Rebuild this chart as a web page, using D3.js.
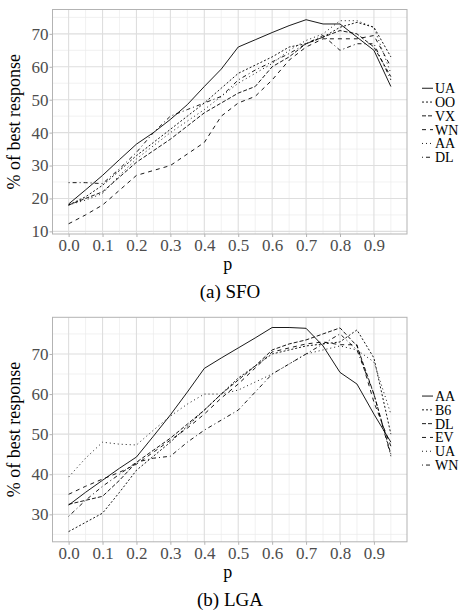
<!DOCTYPE html>
<html>
<head>
<meta charset="utf-8">
<script src="https://cdn.jsdelivr.net/npm/d3@7"></script>
<style>
  body { margin: 0; background: #fff; }
</style>
</head>
<body>
<div id="chart"></div>
<script>
// p values shared by every series
const pValues = [0, 0.05, 0.1, 0.15, 0.2, 0.25, 0.3, 0.35, 0.4, 0.45, 0.5, 0.55, 0.6, 0.65, 0.7, 0.75, 0.8, 0.85, 0.9, 0.95]
const xTicks = [0, 0.1, 0.2, 0.3, 0.4, 0.5, 0.6, 0.7, 0.8, 0.9]

// (a) SFO
const sfoNames = ['UA', 'OO', 'VX', 'WN', 'AA', 'DL']
const sfoUA = [18.3, 22.6, 27.0, 31.8, 36.5, 40.0, 44.0, 48.5, 54.0, 59.3, 66.0, 68.2, 70.4, 72.5, 74.3, 73.0, 73.0, 69.0, 65.0, 54.0]
const sfoOO = [18.0, 20.5, 24.0, 28.5, 33.0, 37.0, 41.0, 45.0, 49.0, 53.5, 58.0, 60.5, 63.0, 66.0, 67.0, 69.0, 72.0, 73.5, 72.0, 63.0]
const sfoVX = [18.0, 20.0, 22.0, 26.5, 31.0, 34.5, 38.0, 42.0, 46.0, 49.0, 52.0, 54.0, 60.0, 63.0, 67.0, 69.0, 71.0, 70.0, 66.0, 57.0]
const sfoWN = [12.3, 15.0, 18.0, 22.5, 27.0, 28.5, 30.0, 33.5, 37.0, 45.0, 49.0, 51.0, 56.0, 62.0, 66.0, 68.5, 68.5, 68.5, 69.5, 60.0]
const sfoAA = [18.0, 19.5, 21.5, 27.0, 32.0, 36.0, 40.0, 43.5, 47.0, 51.0, 55.0, 58.0, 61.0, 65.0, 68.0, 70.0, 74.0, 74.0, 72.0, 58.0]
const sfoDL = [24.8, 24.8, 24.5, 29.0, 34.0, 40.0, 45.0, 47.0, 49.0, 51.0, 56.0, 59.0, 61.5, 64.0, 67.0, 69.5, 65.0, 67.0, 67.0, 56.0]
const sfoYTicks = [10, 20, 30, 40, 50, 60, 70]

// (b) LGA
const lgaNames = ['AA', 'B6', 'DL', 'EV', 'UA', 'WN']
const lgaAA = [32.3, 35.5, 38.5, 41.5, 44.3, 49.5, 54.8, 60.5, 66.4, 69.0, 71.5, 74.0, 76.6, 76.6, 76.4, 72.0, 65.4, 62.5, 55.0, 48.0]
const lgaB6 = [25.7, 28.0, 30.3, 35.5, 41.0, 44.5, 48.0, 52.0, 56.0, 60.0, 64.0, 67.0, 70.0, 71.0, 72.0, 72.5, 73.0, 76.0, 69.0, 50.0]
const lgaDL = [32.5, 33.5, 34.5, 38.5, 43.0, 46.0, 49.0, 52.5, 56.0, 60.0, 63.5, 67.0, 71.0, 72.5, 73.5, 75.0, 76.5, 72.0, 60.0, 45.0]
const lgaEV = [35.0, 37.0, 38.8, 40.5, 42.5, 45.5, 48.5, 51.5, 55.0, 59.0, 62.5, 66.5, 70.5, 71.5, 72.5, 73.0, 72.3, 72.3, 58.0, 47.0]
const lgaUA = [39.3, 44.0, 48.0, 47.5, 47.3, 51.0, 54.5, 57.5, 60.0, 60.0, 61.0, 63.0, 65.0, 67.5, 70.0, 71.0, 72.0, 71.0, 68.0, 55.0]
const lgaWN = [29.5, 33.5, 37.0, 40.0, 43.0, 44.0, 44.5, 48.0, 51.0, 53.5, 56.0, 60.5, 65.0, 67.5, 70.0, 72.5, 75.0, 71.0, 60.0, 44.5]
const lgaYTicks = [30, 40, 50, 60, 70]

// ggplot default linetypes: solid, 22, 42, 44, 13, 1343
const dashes = ['none', '2,2', '4,2', '4,4', '1,3', '1,3,4,3']
const serif = '"Liberation Serif", "Times New Roman", serif'

const W = 463, H = 616
const svg = d3.select('#chart').append('svg')
  .attr('width', W)
  .attr('height', H)
  .style('font-family', serif)

function expand(ext) {
  let d = (ext[1] - ext[0]) * 0.05
  return [ext[0] - d, ext[1] + d]
}

function panel(top, names, series, yTicks, caption) {
  let left = 52.5, right = 407, height = 224.5
  let g = svg.append('g').attr('transform', `translate(0,${top})`)

  let x = d3.scaleLinear()
    .domain(expand(d3.extent(pValues)))
    .range([left, right])
  let y = d3.scaleLinear()
    .domain(expand(d3.extent(series.flat())))
    .range([height, 0])

  // minor grid halfway between majors
  let step = yTicks[1] - yTicks[0]
  let yMinor = d3.range(yTicks[0] - step / 2, y.domain()[1], step).filter(v => v > y.domain()[0])
  let xMinor = d3.range(0.05, 1.0, 0.1).filter(v => v < x.domain()[1])

  let grid = g.append('g')
  grid.selectAll('.ymin').data(yMinor).enter().append('line')
    .attr('x1', left).attr('x2', right)
    .attr('y1', d => y(d)).attr('y2', d => y(d))
    .style('stroke', '#ebebeb').style('stroke-width', 0.7)
  grid.selectAll('.xmin').data(xMinor).enter().append('line')
    .attr('y1', 0).attr('y2', height)
    .attr('x1', d => x(d)).attr('x2', d => x(d))
    .style('stroke', '#ebebeb').style('stroke-width', 0.7)
  grid.selectAll('.ymaj').data(yTicks).enter().append('line')
    .attr('x1', left).attr('x2', right)
    .attr('y1', d => y(d)).attr('y2', d => y(d))
    .style('stroke', '#dedede').style('stroke-width', 1.1)
  grid.selectAll('.xmaj').data(xTicks).enter().append('line')
    .attr('y1', 0).attr('y2', height)
    .attr('x1', d => x(d)).attr('x2', d => x(d))
    .style('stroke', '#dedede').style('stroke-width', 1.1)

  let line = d3.line()
    .x((d, i) => x(pValues[i]))
    .y(d => y(d))

  g.selectAll('.series').data(series).enter().append('path')
    .attr('d', d => line(d))
    .style('fill', 'none')
    .style('stroke', '#000')
    .style('stroke-width', 0.9)
    .style('stroke-dasharray', (d, i) => dashes[i])

  g.append('rect')
    .attr('x', left).attr('y', 0)
    .attr('width', right - left).attr('height', height)
    .style('fill', 'none').style('stroke', '#b3b3b3').style('stroke-width', 1)

  let xAxis = g.append('g')
    .attr('transform', `translate(0,${height})`)
    .call(d3.axisBottom(x).tickValues(xTicks).tickFormat(d3.format('.1f')).tickSize(3).tickPadding(2))
  let yAxis = g.append('g')
    .attr('transform', `translate(${left},0)`)
    .call(d3.axisLeft(y).tickValues(yTicks).tickSize(3).tickPadding(1))
  for (let a of [xAxis, yAxis]) {
    a.attr('font-family', null).attr('font-size', null)
    a.style('font-size', '17px')
    a.select('.domain').remove()
    a.selectAll('.tick line').style('stroke', '#b3b3b3')
    a.selectAll('.tick text').attr('fill', '#4d4d4d')
  }

  g.append('text')
    .attr('x', (left + right) / 2 - 2).attr('y', height + 36)
    .attr('text-anchor', 'middle')
    .style('font-size', '18px')
    .text('p')

  g.append('text')
    .attr('transform', `translate(20,${height / 2}) rotate(-90)`)
    .attr('text-anchor', 'middle')
    .style('font-size', '18px')
    .text('% of best response')

  g.append('text')
    .attr('x', 230).attr('y', height + 64)
    .attr('text-anchor', 'middle')
    .style('font-size', '19px')
    .text(caption)

  // legend
  let rowH = 13.8
  let ly0 = height / 2 - rowH * (names.length - 1) / 2 + 1
  let lg = g.selectAll('.key').data(names).enter().append('g')
    .attr('transform', (d, i) => `translate(422,${ly0 + i * rowH})`)
  lg.append('line')
    .attr('x1', 0).attr('x2', 11)
    .style('stroke', '#000').style('stroke-width', 0.9)
    .style('stroke-dasharray', (d, i) => dashes[i])
  lg.append('text')
    .attr('x', 13).attr('dy', '0.35em')
    .style('font-size', '14px')
    .text(d => d)
}

panel(9.5, sfoNames, [sfoUA, sfoOO, sfoVX, sfoWN, sfoAA, sfoDL], sfoYTicks, '(a) SFO')
panel(317.3, lgaNames, [lgaAA, lgaB6, lgaDL, lgaEV, lgaUA, lgaWN], lgaYTicks, '(b) LGA')
</script>
</body>
</html>
